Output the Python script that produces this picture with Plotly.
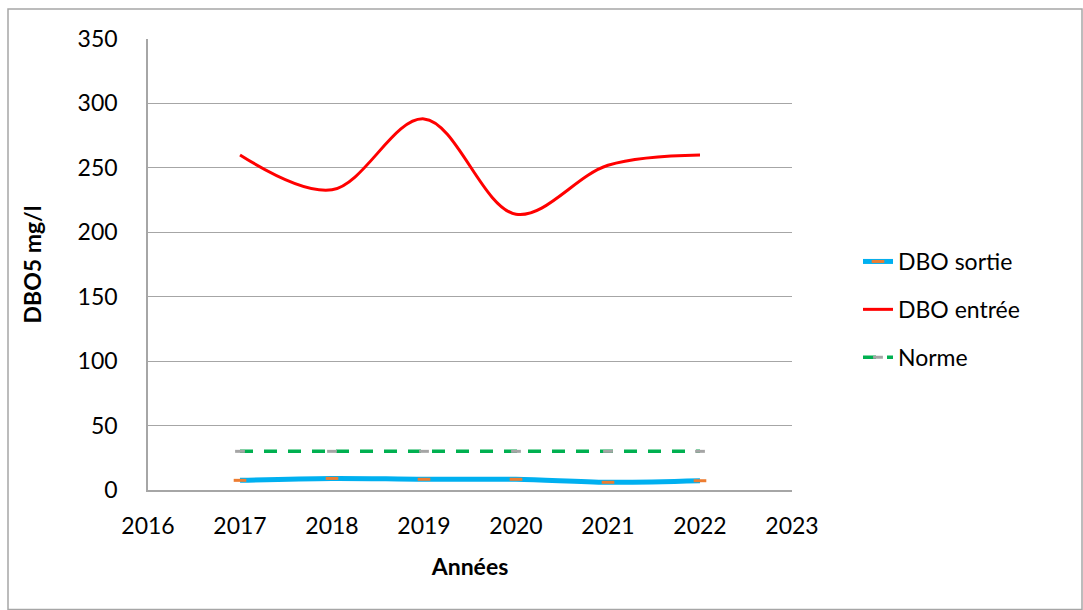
import plotly.graph_objects as go

years = [2017, 2018, 2019, 2020, 2021, 2022]
dbo_sortie = [7.5, 9, 8.3, 8.3, 6, 7.2]
dbo_entree = [260, 233, 288, 214, 252, 260]
norme = [30, 30, 30, 30, 30, 30]

FONT = "Lato"
FS = 23

fig = go.Figure()
fig.add_trace(go.Scatter(
    x=years, y=dbo_sortie, name="DBO sortie", mode="lines+markers",
    line=dict(color="#00B0F0", width=5, shape="spline", smoothing=1),
    marker=dict(symbol="line-ew", size=9, color="#ED7D31",
                line=dict(color="#ED7D31", width=3)),
    legendgroup="a"))
fig.add_trace(go.Scatter(
    x=years, y=dbo_entree, name="DBO entrée", mode="lines",
    line=dict(color="#FF0000", width=3, shape="spline", smoothing=1),
    legendgroup="b"))
fig.add_trace(go.Scatter(
    x=years, y=norme, name="Norme", mode="lines+markers",
    line=dict(color="#00B050", width=3.5, dash="13px,11px"),
    marker=dict(symbol="line-ew", size=7, color="#A5A5A5",
                line=dict(color="#A5A5A5", width=3)),
    legendgroup="c"))

W, H = 1083, 610
L, R, T, B = 148, 291, 39, 120
pw, ph = W - L - R, H - T - B

def px(x):
    return (x - L) / pw

def py(y):
    return (H - B - y) / ph

fig.add_shape(type="rect", xref="paper", yref="paper",
              x0=px(8), x1=px(1082), y0=py(609.5), y1=py(9),
              line=dict(color="#A6A6A6", width=1.5), layer="below")

fig.update_layout(
    width=W, height=H,
    margin=dict(l=L, r=R, t=T, b=B),
    paper_bgcolor="white", plot_bgcolor="white",
    font=dict(family=FONT, size=FS, color="black"),
    showlegend=True,
    legend=dict(x=px(858), y=py(240), xanchor="left", yanchor="top",
                font=dict(size=FS), tracegroupgap=15, bgcolor="rgba(0,0,0,0)"),
    xaxis=dict(range=[2016, 2023], tickvals=[2016, 2017, 2018, 2019, 2020, 2021, 2022, 2023],
               showgrid=False, zeroline=False, showline=True, linecolor="#A6A6A6", linewidth=1.5,
               ticks="", ticklabelstandoff=15,
               title=dict(text="<b>Années</b>", font=dict(size=FS), standoff=21)),
    yaxis=dict(range=[0, 350], tickvals=[0, 50, 100, 150, 200, 250, 300, 350],
               showgrid=True, gridcolor="#A6A6A6", gridwidth=1.2, zeroline=False,
               showline=True, linecolor="#A6A6A6", linewidth=1.5,
               ticks="", ticklabelstandoff=24,
               title=dict(text="<b>DBO5 mg/l</b>", font=dict(size=FS), standoff=30)),
)

fig.write_html("out.html")
